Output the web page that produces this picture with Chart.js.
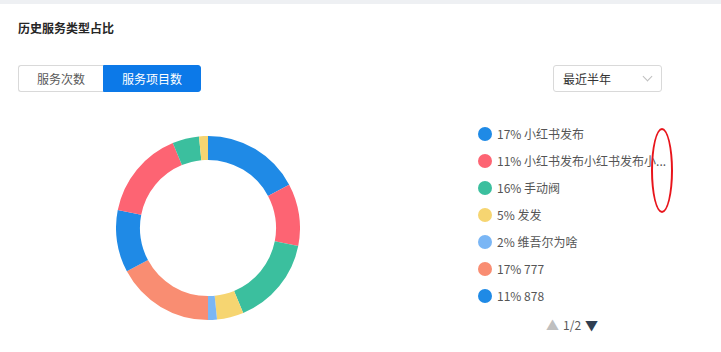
<!DOCTYPE html>
<html lang="zh-CN">
<head>
<meta charset="utf-8">
<title>历史服务类型占比</title>
<script src="https://cdn.jsdelivr.net/npm/chart.js@4/dist/chart.umd.min.js"></script>
<style>
    html, body { margin: 0; padding: 0; background: #fff; }
    body {
        width: 721px; height: 352px; position: relative; overflow: hidden;
        font-family: "Noto Sans CJK SC", "Noto Sans", sans-serif;
    }
    .top-strip { position: absolute; left: 0; top: 0; width: 721px; height: 4px; background: #eef0f3; }
    .title { position: absolute; left: 18px; top: 19px; font-size: 12px; font-weight: bold; color: #262626; line-height: 18px; }

    /* tab buttons */
    .tabs { position: absolute; left: 18px; top: 65px; display: flex; }
    .tab {
        height: 27px; line-height: 25px; box-sizing: border-box; font-size: 12px;
        text-align: center; border: 1px solid #d9d9d9; color: #595959; background: #fff;
    }
    .tab.first { width: 85px; border-radius: 3px 0 0 3px; border-right: none; }
    .tab.active { width: 98px; background: #0c79e8; border-color: #0c79e8; color: #fff; border-radius: 0 3px 3px 0; }

    /* range select */
    .select {
        position: absolute; left: 553px; top: 65px; width: 109px; height: 27px; box-sizing: border-box;
        border: 1px solid #d9d9d9; border-radius: 3px; font-size: 12px; color: #333; line-height: 25px; padding-left: 9px;
    }
    .select .arrow {
        position: absolute; right: 10px; top: 7px; width: 6px; height: 6px;
        border-right: 1px solid #bfbfbf; border-bottom: 1px solid #bfbfbf; transform: rotate(45deg);
    }

    .chart-box { position: absolute; left: 116px; top: 136px; width: 184px; height: 184px; }

    /* legend */
    .legend { position: absolute; left: 478px; top: 120px; width: 200px; }
    .legend-item { height: 27px; display: flex; align-items: center; }
    .legend-dot { width: 14px; height: 14px; border-radius: 50%; flex: none; margin-right: 5px; }
    .legend-text { font-size: 12px; color: #555; white-space: nowrap; }
    .pager { position: absolute; left: 546px; top: 316px; font-size: 12px; color: #595959; line-height: 18px; white-space: nowrap; }
    .pager .up { color: #bfbfbf; font-size: 13px; margin-right: 4px; }
    .pager .down { color: #2f3f52; font-size: 13px; margin-left: 4px; }

    .mark { position: absolute; left: 651px; top: 128px; width: 22px; height: 85px; box-sizing: border-box;
        border: 2.5px solid #e8141b; border-radius: 50%; }
</style>
</head>
<body>
<div class="top-strip"></div>
<div class="title">历史服务类型占比</div>

<div class="tabs">
    <div class="tab first">服务次数</div>
    <div class="tab active">服务项目数</div>
</div>

<div class="select">最近半年<span class="arrow"></span></div>

<div class="chart-box"><canvas id="typeChart" width="184" height="184"></canvas></div>

<div class="legend" id="legend"></div>
<div class="pager"><span class="up">▲</span>1/2<span class="down">▼</span></div>

<div class="mark"></div>

<script>
// --- DATA ---
const serviceTypes = ['小红书发布', '小红书发布小红书发布小红书发布', '手动阀', '发发', '维吾尔为啥', '777', '878', '测试服务', '其他', '新增'];
const serviceCounts = [11, 7, 10, 3, 1, 11, 7, 10, 3, 1];
const sliceColors = ['#1f8ae6', '#fd6473', '#3bbf9e', '#f6d571', '#7ab6f5', '#f98d72', '#1f8ae6', '#fd6473', '#3bbf9e', '#f6d571'];
const legendPageSize = 7;
const maxNameChars = 11;

const total = serviceCounts.reduce((a, b) => a + b, 0);

// --- DOUGHNUT ---
new Chart(document.getElementById('typeChart').getContext('2d'), {
    type: 'doughnut',
    data: {
        labels: serviceTypes,
        datasets: [{
            data: serviceCounts,
            backgroundColor: sliceColors,
            borderWidth: 0
        }]
    },
    options: {
        responsive: false,
        animation: false,
        cutout: '74%',
        layout: { padding: 0 },
        plugins: { legend: { display: false }, tooltip: { enabled: false } }
    }
});

// --- HTML LEGEND (page 1) ---
const legendEl = document.getElementById('legend');
serviceTypes.slice(0, legendPageSize).forEach((name, i) => {
    const pct = Math.round(serviceCounts[i] / total * 100);
    const shown = name.length > maxNameChars ? name.slice(0, maxNameChars) + '...' : name;
    const item = document.createElement('div');
    item.className = 'legend-item';
    item.innerHTML = `<span class="legend-dot" style="background:${sliceColors[i]}"></span>` +
        `<span class="legend-text">${pct}% ${shown}</span>`;
    legendEl.appendChild(item);
});
</script>
</body>
</html>
